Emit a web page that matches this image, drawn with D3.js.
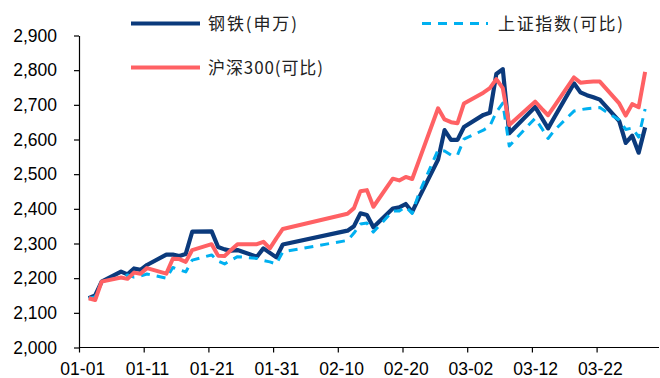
<!DOCTYPE html>
<html>
<head>
<meta charset="utf-8">
<script src="https://cdn.jsdelivr.net/npm/d3@7/dist/d3.min.js"></script>
<style>
  html, body { margin: 0; padding: 0; background: #fff; }
  svg { display: block; }
  .axis text { font-family: "Liberation Sans", Arial, sans-serif; font-size: 17.5px; fill: #000; }
  .axis path, .axis line { stroke: #000; stroke-width: 1.2px; }
  .legend text { font-family: "Noto Sans CJK SC", sans-serif; font-size: 17px; fill: #222; }
</style>
</head>
<body>
<svg id="chart" width="660" height="378"></svg>
<script>
// Trading days, Jan–Mar 2019
const dates = [
  "2019-01-02","2019-01-03","2019-01-04",
  "2019-01-07","2019-01-08","2019-01-09","2019-01-10","2019-01-11",
  "2019-01-14","2019-01-15","2019-01-16","2019-01-17","2019-01-18",
  "2019-01-21","2019-01-22","2019-01-23","2019-01-24","2019-01-25",
  "2019-01-28","2019-01-29","2019-01-30","2019-01-31","2019-02-01",
  "2019-02-11","2019-02-12","2019-02-13","2019-02-14","2019-02-15",
  "2019-02-18","2019-02-19","2019-02-20","2019-02-21","2019-02-22",
  "2019-02-25","2019-02-26","2019-02-27","2019-02-28","2019-03-01",
  "2019-03-04","2019-03-05","2019-03-06","2019-03-07","2019-03-08",
  "2019-03-11","2019-03-12","2019-03-13","2019-03-14","2019-03-15",
  "2019-03-18","2019-03-19","2019-03-20","2019-03-21","2019-03-22",
  "2019-03-25","2019-03-26","2019-03-27","2019-03-28","2019-03-29"
];

// 钢铁(申万)
const steel = [
  2142, 2150, 2190,
  2219, 2211, 2228, 2224, 2238,
  2268, 2268, 2264, 2270, 2334,
  2335, 2290, 2283, 2279, 2281,
  2262, 2286, 2273, 2260, 2297,
  2337, 2350, 2387, 2382, 2347,
  2401, 2404, 2414, 2391, 2430,
  2542, 2627, 2599, 2599, 2636,
  2671, 2677, 2789, 2803, 2618,
  2675, 2694, 2663, 2632, 2665,
  2762, 2736, 2728, 2722, 2715,
  2653, 2590, 2611, 2562, 2635
];

// 上证指数(可比)
const sse = [
  2142, 2146, 2190,
  2203, 2209, 2203, 2206, 2212,
  2200, 2231, 2224, 2218, 2252,
  2267, 2249, 2241, 2252, 2262,
  2257, 2251, 2247, 2241, 2276,
  2309, 2330, 2356, 2359, 2333,
  2394, 2394, 2406, 2387, 2443,
  2570, 2567, 2555, 2555, 2601,
  2627, 2639, 2679, 2705, 2581,
  2642, 2661, 2633, 2603, 2627,
  2682, 2686, 2689, 2691, 2692,
  2656, 2629, 2633, 2607, 2688
];

// 沪深300(可比)
const csi300 = [
  2142, 2137, 2190,
  2202, 2198, 2216, 2213, 2229,
  2213, 2256, 2255, 2247, 2281,
  2298, 2265, 2264, 2281, 2298,
  2298, 2305, 2286, 2315, 2342,
  2386, 2402, 2451, 2454, 2406,
  2487, 2482, 2492, 2486, 2537,
  2690, 2658, 2650, 2647, 2704,
  2735, 2748, 2774, 2748, 2642,
  2692, 2709, 2689, 2670, 2697,
  2779, 2764, 2766, 2767, 2767,
  2704, 2669, 2702, 2693, 2795
];

const tickDates = ["2019-01-01","2019-01-11","2019-01-21","2019-01-31","2019-02-10",
                   "2019-02-20","2019-03-02","2019-03-12","2019-03-22"];
const tickLabels = ["01-01","01-11","01-21","01-31","02-10","02-20","03-02","03-12","03-22"];
const yTicks = [2000, 2100, 2200, 2300, 2400, 2500, 2600, 2700, 2800, 2900];

const seriesNames = ["钢铁(申万)", "上证指数(可比)", "沪深300(可比)"];
const seriesValues = [steel, sse, csi300];
const seriesColors = ["#0B3A7C", "#00B0F0", "#FF6164"];
const seriesWidths = [4.2, 3, 4];
const seriesDash = [null, "9,7", null];

const parse = d3.utcParse("%Y-%m-%d");
const svg = d3.select("#chart");

const x = d3.scaleUtc()
  .domain([parse("2019-01-01"), parse("2019-04-01")])
  .range([79, 661.3]);
const y = d3.scaleLinear().domain([2000, 2900]).range([347.5, 35.5]);

// each day occupies one slot; points and labels sit at the slot centre
const mid = d => d3.utcHour.offset(d, 12);

// axes
const xAxis = svg.append("g").attr("class", "axis")
  .attr("transform", `translate(0,${y(2000)})`)
  .call(d3.axisBottom(x)
    .tickValues(tickDates.map(parse))
    .tickFormat((d, i) => tickLabels[i])
    .tickSize(5).tickPadding(10).tickSizeOuter(0));
xAxis.select(".domain").attr("d", `M${x.range()[0]},0H659`);
const dayWidth = x(parse("2019-01-02")) - x(parse("2019-01-01"));
xAxis.selectAll(".tick text").attr("dx", dayWidth / 2);

svg.append("g").attr("class", "axis")
  .attr("transform", `translate(${x.range()[0]},0)`)
  .call(d3.axisLeft(y)
    .tickValues(yTicks)
    .tickFormat(d3.format(","))
    .tickSize(5).tickPadding(17).tickSizeOuter(0));

// lines
const pts = dates.map(parse);
seriesValues.forEach((vals, s) => {
  const line = d3.line()
    .x((d, i) => x(mid(pts[i])))
    .y(d => y(d))
    .curve(d3.curveLinear);
  svg.append("path")
    .datum(vals)
    .attr("d", line)
    .attr("fill", "none")
    .attr("stroke", seriesColors[s])
    .attr("stroke-width", seriesWidths[s])
    .attr("stroke-linejoin", "round")
    .attr("stroke-dasharray", seriesDash[s]);
});

// legend
const legendPos = [[131, 23.5], [422, 23.5], [131, 67.5]];
const legendTextWidth = [89, 125, 115];
const legend = svg.append("g").attr("class", "legend");
seriesNames.forEach((name, s) => {
  const [lx, ly] = legendPos[s];
  legend.append("line")
    .attr("x1", lx).attr("x2", lx + (s === 1 ? 66 : 69))
    .attr("y1", ly).attr("y2", ly)
    .attr("stroke", seriesColors[s])
    .attr("stroke-width", seriesWidths[s])
    .attr("stroke-dasharray", seriesDash[s]);
  legend.append("text")
    .attr("x", lx + (s === 1 ? 76 : 77))
    .attr("y", ly)
    .attr("dy", "0.36em")
    .attr("textLength", legendTextWidth[s])
    .attr("lengthAdjust", "spacing")
    .text(name);
});
</script>
</body>
</html>
